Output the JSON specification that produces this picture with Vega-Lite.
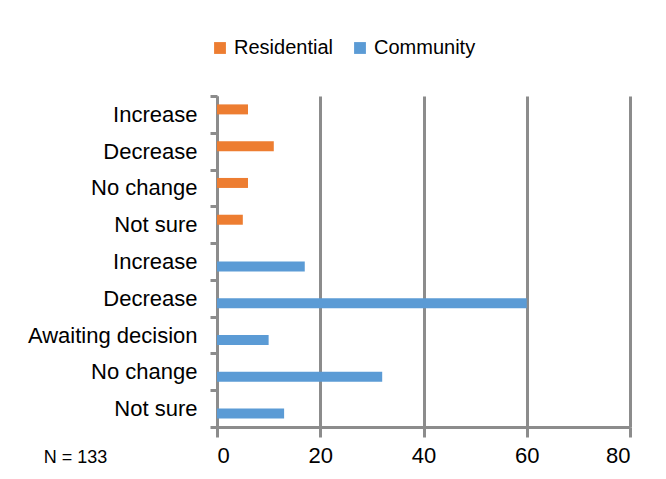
{
  "$schema": "https://vega.github.io/schema/vega-lite/v6.json",
  "width": 413,
  "height": 331,
  "autosize": {"type": "none"},
  "padding": {"left": 217, "top": 96, "right": 36, "bottom": 52},
  "background": "white",
  "config": {
    "font": "Liberation Sans",
    "view": {"stroke": null}
  },
  "data": {
    "values": [
      {"key": "R|Increase", "setting": "Residential", "count": 6},
      {"key": "R|Decrease", "setting": "Residential", "count": 11},
      {"key": "R|No change", "setting": "Residential", "count": 6},
      {"key": "R|Not sure", "setting": "Residential", "count": 5},
      {"key": "C|Increase", "setting": "Community", "count": 17},
      {"key": "C|Decrease", "setting": "Community", "count": 60},
      {"key": "C|Awaiting decision", "setting": "Community", "count": 10},
      {"key": "C|No change", "setting": "Community", "count": 32},
      {"key": "C|Not sure", "setting": "Community", "count": 13}
    ]
  },
  "mark": {"type": "bar"},
  "encoding": {
    "y": {
      "field": "key",
      "type": "nominal",
      "sort": null,
      "scale": {"paddingInner": 0, "paddingOuter": 0},
      "axis": {
        "title": "N = 133",
        "titleAngle": 0,
        "titleX": -142,
        "titleY": 366,
        "titleAlign": "center",
        "titleBaseline": "alphabetic",
        "titleFontSize": 18,
        "titleFontWeight": "normal",
        "titleColor": "black",
        "labelExpr": "split(datum.label, '|')[1]",
        "labelFontSize": 22,
        "labelColor": "black",
        "labelPadding": 13,
        "tickBand": "extent",
        "tickSize": 7,
        "tickWidth": 3,
        "tickColor": "#8c8c8c",
        "domainColor": "#8c8c8c",
        "domainWidth": 3,
        "grid": false
      }
    },
    "yOffset": {
      "field": "setting",
      "type": "nominal",
      "scale": {"domain": ["Residential", "Community"], "paddingInner": 0, "paddingOuter": 0.84}
    },
    "x": {
      "field": "count",
      "type": "quantitative",
      "scale": {"domain": [0, 80], "nice": false},
      "axis": {
        "title": null,
        "values": [0, 20, 40, 60, 80],
        "labelFontSize": 22,
        "labelColor": "black",
        "labelPadding": 8,
        "tickSize": 10,
        "tickWidth": 3,
        "tickColor": "#8c8c8c",
        "domainColor": "#8c8c8c",
        "domainWidth": 3,
        "grid": true,
        "gridColor": "#8c8c8c",
        "gridWidth": 3,
        "gridOpacity": 1
      }
    },
    "color": {
      "field": "setting",
      "type": "nominal",
      "scale": {"domain": ["Residential", "Community"], "range": ["#ED7D31", "#5B9BD5"]},
      "legend": {
        "title": null,
        "orient": "none",
        "direction": "horizontal",
        "legendX": -7,
        "legendY": -58,
        "symbolType": "square",
        "symbolSize": 140,
        "symbolStrokeWidth": 0,
        "labelFontSize": 20,
        "labelColor": "black",
        "labelOffset": 4,
        "columnPadding": 17
      }
    }
  }
}
